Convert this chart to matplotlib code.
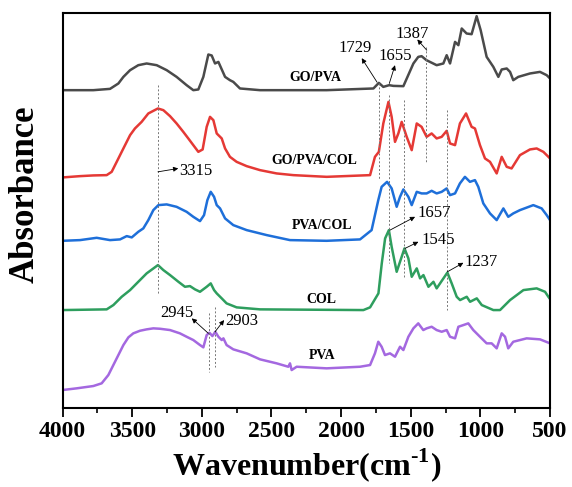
import matplotlib
matplotlib.use("Agg")
import matplotlib.pyplot as plt
from matplotlib.ticker import MultipleLocator

plt.rcParams["font.family"] = ["Liberation Serif", "DejaVu Serif"]
plt.rcParams["mathtext.fontset"] = "custom"
plt.rcParams["mathtext.rm"] = "Liberation Serif:bold"
plt.rcParams["mathtext.bf"] = "Liberation Serif:bold"

# spectra (wavenumber, offset absorbance)
go_pva_wn = [4000, 3779, 3659, 3599, 3563, 3515, 3456, 3396, 3324, 3252, 3181, 3109, 3061,
             3025, 2989, 2953, 2929, 2905, 2881, 2833, 2798, 2774, 2726, 2582, 2104, 1768,
             1729, 1697, 1655, 1625, 1553, 1481, 1446, 1422, 1387, 1314, 1266, 1242, 1218,
             1182, 1158, 1134, 1099, 1063, 1027, 998, 955, 907, 871, 847, 811, 787, 764, 728,
             644, 572, 524, 500]
go_pva_ab = [3.175, 3.175, 3.188, 3.242, 3.308, 3.375, 3.425, 3.442, 3.425, 3.375, 3.308,
             3.225, 3.175, 3.182, 3.308, 3.532, 3.522, 3.442, 3.458, 3.308, 3.275, 3.258,
             3.192, 3.175, 3.175, 3.192, 3.248, 3.208, 3.225, 3.218, 3.215, 3.442, 3.508,
             3.515, 3.475, 3.425, 3.442, 3.525, 3.442, 3.658, 3.625, 3.792, 3.742, 3.735,
             3.915, 3.775, 3.508, 3.408, 3.308, 3.382, 3.392, 3.358, 3.275, 3.308, 3.342,
             3.358, 3.325, 3.292]

go_pva_col_wn = [4000, 3874, 3779, 3683, 3647, 3611, 3563, 3515, 3480, 3432, 3384, 3315, 3276,
                 3228, 3181, 3133, 3097, 3061, 3025, 2994, 2965, 2941, 2917, 2893, 2857, 2833,
                 2798, 2750, 2678, 2582, 2463, 2343, 2104, 1792, 1757, 1729, 1697, 1660, 1637,
                 1613, 1589, 1565, 1529, 1493, 1457, 1422, 1386, 1350, 1314, 1278, 1242, 1218,
                 1182, 1147, 1103, 1063, 1039, 1003, 967, 931, 883, 847, 811, 776, 716, 644,
                 596, 548, 500]
go_pva_col_ab = [2.302, 2.315, 2.322, 2.325, 2.358, 2.458, 2.592, 2.725, 2.792, 2.858, 2.942,
                 2.992, 2.975, 2.915, 2.842, 2.758, 2.692, 2.625, 2.558, 2.582, 2.808, 2.908,
                 2.875, 2.742, 2.692, 2.592, 2.508, 2.458, 2.415, 2.375, 2.342, 2.325, 2.308,
                 2.325, 2.508, 2.558, 2.842, 3.058, 2.908, 2.658, 2.742, 2.858, 2.708, 2.575,
                 2.842, 2.808, 2.708, 2.742, 2.692, 2.708, 2.768, 2.642, 2.625, 2.842, 2.942,
                 2.808, 2.792, 2.625, 2.492, 2.458, 2.342, 2.508, 2.408, 2.392, 2.525, 2.582,
                 2.592, 2.558, 2.492]

pva_col_wn = [4000, 3874, 3755, 3659, 3587, 3539, 3503, 3456, 3420, 3384, 3348, 3312, 3252,
              3181, 3109, 3061, 3013, 2984, 2960, 2936, 2912, 2893, 2869, 2833, 2774, 2678,
              2534, 2367, 2104, 1864, 1781, 1733, 1709, 1670, 1637, 1601, 1577, 1553, 1517,
              1493, 1457, 1422, 1386, 1350, 1314, 1278, 1242, 1218, 1182, 1147, 1111, 1075,
              1039, 1015, 979, 931, 883, 835, 800, 764, 716, 620, 560, 524, 500]
pva_col_ab = [1.668, 1.675, 1.698, 1.675, 1.682, 1.715, 1.702, 1.758, 1.792, 1.875, 1.975,
              2.025, 2.032, 2.008, 1.958, 1.908, 1.865, 1.925, 2.075, 2.158, 2.108, 2.025,
              1.992, 1.892, 1.825, 1.775, 1.725, 1.675, 1.668, 1.682, 1.775, 2.075, 2.208,
              2.258, 2.192, 2.008, 2.108, 2.182, 2.108, 2.025, 2.158, 2.142, 2.142, 2.168,
              2.142, 2.158, 2.192, 2.125, 2.142, 2.242, 2.308, 2.258, 2.275, 2.208, 2.042,
              1.942, 1.875, 1.992, 1.908, 1.942, 1.975, 2.025, 1.992, 1.925, 1.875]

col_wn = [4000, 3683, 3635, 3575, 3515, 3456, 3396, 3315, 3276, 3228, 3168, 3121, 3085, 3049,
          3013, 2965, 2936, 2912, 2893, 2857, 2822, 2750, 2582, 1840, 1792, 1732, 1708, 1684,
          1657, 1637, 1601, 1577, 1545, 1517, 1493, 1457, 1433, 1409, 1373, 1337, 1314, 1237,
          1206, 1170, 1146, 1098, 1074, 1026, 990, 907, 859, 787, 691, 596, 536, 512, 500]
col_ab = [0.975, 0.982, 1.025, 1.108, 1.175, 1.258, 1.342, 1.425, 1.375, 1.325, 1.258, 1.208,
          1.215, 1.182, 1.158, 1.208, 1.242, 1.175, 1.142, 1.092, 1.042, 1.002, 0.982, 0.975,
          1.002, 1.142, 1.442, 1.692, 1.775, 1.608, 1.358, 1.458, 1.592, 1.492, 1.308, 1.392,
          1.292, 1.325, 1.208, 1.258, 1.192, 1.35, 1.242, 1.108, 1.075, 1.108, 1.058, 1.092,
          1.025, 0.975, 0.975, 1.075, 1.175, 1.192, 1.158, 1.108, 1.085]

pva_wn = [4000, 3898, 3779, 3719, 3671, 3635, 3599, 3563, 3527, 3492, 3444, 3396, 3348, 3300,
          3228, 3157, 3109, 3061, 3013, 2989, 2965, 2945, 2924, 2903, 2881, 2857, 2845, 2822,
          2774, 2678, 2582, 2463, 2379, 2367, 2355, 2319, 2104, 1864, 1792, 1757, 1733, 1709,
          1685, 1649, 1613, 1577, 1553, 1517, 1481, 1446, 1410, 1386, 1350, 1314, 1278, 1242,
          1218, 1182, 1158, 1122, 1087, 1051, 1003, 955, 919, 883, 847, 823, 800, 764, 668,
          572, 500]
pva_ab = [0.175, 0.192, 0.215, 0.242, 0.325, 0.425, 0.525, 0.625, 0.702, 0.742, 0.768, 0.782,
          0.792, 0.788, 0.775, 0.742, 0.708, 0.675, 0.625, 0.602, 0.725, 0.748, 0.715, 0.758,
          0.708, 0.675, 0.692, 0.625, 0.582, 0.542, 0.482, 0.442, 0.408, 0.442, 0.375, 0.408,
          0.392, 0.408, 0.425, 0.542, 0.658, 0.608, 0.525, 0.542, 0.508, 0.608, 0.575, 0.708,
          0.792, 0.842, 0.775, 0.792, 0.808, 0.775, 0.758, 0.775, 0.708, 0.692, 0.808, 0.825,
          0.842, 0.775, 0.708, 0.642, 0.642, 0.592, 0.742, 0.708, 0.592, 0.658, 0.692, 0.682,
          0.642]

series_names = ["GO/PVA", "GO/PVA/COL", "PVA/COL", "COL", "PVA"]
series_colors = ["#4a4a4a", "#e53935", "#1e6fd9", "#2e9e5e", "#a468e0"]
name_pos = [(2187, 3.298), (2195, 2.475), (2139, 1.825), (2142, 1.08), (2139, 0.522)]

# dotted marker lines: wavenumber, top, bottom
guide_wn = [3315, 2945, 2903, 1729, 1655, 1545, 1387, 1237]
guide_top = [3.225, 0.945, 1.008, 3.245, 3.125, 3.075, 3.605, 2.975]
guide_bot = [1.125, 0.36, 0.408, 2.275, 1.445, 1.305, 2.455, 0.975]

# peak labels: text, text anchor, arrow tail (on curve), arrow head (near text), alignment
peak_text = ["1729", "1655", "1387", "3315", "1657", "1545", "1237", "2945", "2903"]
peak_xy = [(1900, 3.595), (1613, 3.515), (1493, 3.742), (3165, 2.37), (1450, 1.95),
           (1420, 1.675), (1112, 1.458), (3063, 0.945), (2833, 0.865)]
peak_ha = ["center", "center", "center", "left", "left", "left", "left", "right", "left"]
arrow_tail = [(1742, 3.255), (1654, 3.242), (1385, 3.575), (3315, 2.358), (1649, 1.775),
              (1541, 1.592), (1237, 1.358), (2953, 0.742), (2905, 0.758)]
arrow_head = [(1852, 3.495), (1613, 3.425), (1453, 3.682), (3169, 2.392), (1469, 1.908),
              (1445, 1.658), (1122, 1.448), (3072, 0.892), (2840, 0.875)]

fig = plt.figure(figsize=(5.72, 4.87), dpi=100)
ax = fig.add_axes([0.1093, 0.1632, 0.8523, 0.8107])

all_wn = [go_pva_wn, go_pva_col_wn, pva_col_wn, col_wn, pva_wn]
all_ab = [go_pva_ab, go_pva_col_ab, pva_col_ab, col_ab, pva_ab]
for wn, ab, color in zip(all_wn, all_ab, series_colors):
    ax.plot(wn, ab, color=color, lw=1.8, solid_joinstyle="round")

for name, (x, y) in zip(series_names, name_pos):
    ax.text(x, y, name, fontsize=10, fontweight="bold", ha="center", va="center")

for x, y0, y1 in zip(guide_wn, guide_top, guide_bot):
    ax.plot([x, x], [y0, y1], color="#777777", lw=0.7, ls=(0, (2, 2)))

for txt, (x, y), ha, tail, head in zip(peak_text, peak_xy, peak_ha, arrow_tail, arrow_head):
    ax.annotate("", xy=head, xytext=tail,
                arrowprops=dict(arrowstyle="-|>", lw=0.6, color="black",
                                mutation_scale=7, shrinkA=0, shrinkB=0))
    ax.text(x, y, txt, fontsize=12, ha=ha, va="center")

ax.set_xlim(4000, 500)
ax.set_ylim(0, 3.95)
ax.xaxis.set_major_locator(MultipleLocator(500))
ax.xaxis.set_minor_locator(MultipleLocator(250))
ax.set_yticks([])
ax.tick_params(axis="x", which="major", direction="out", length=6.5, width=1.3,
               labelsize=17, pad=3)
ax.tick_params(axis="x", which="minor", direction="out", length=3.5, width=1.2)
for lab in ax.get_xticklabels():
    lab.set_fontweight("bold")
for sp in ax.spines.values():
    sp.set_linewidth(1.5)

ax.set_xlabel(r"Wavenumber(cm$^{\text{-}1}$)", fontsize=23, fontweight="bold")
ax.xaxis.set_label_coords(0.5, -0.146)
ax.xaxis.label.set_va("center")
ax.set_ylabel("Absorbance", fontsize=25, fontweight="bold")
ax.yaxis.set_label_coords(-0.077, 0.54)
ax.yaxis.label.set_va("center")

fig.savefig("out.png", dpi=100)
